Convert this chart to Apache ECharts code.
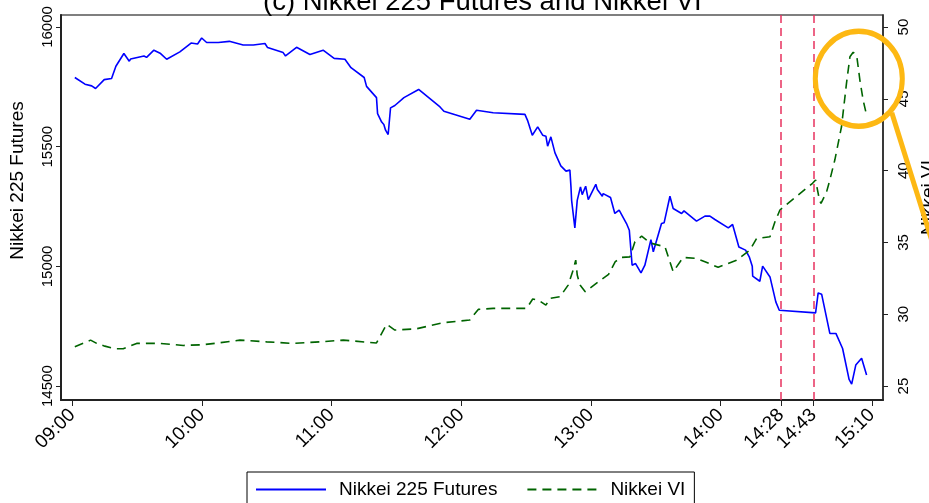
<!DOCTYPE html>
<html>
<head>
<meta charset="utf-8">
<script src="https://cdn.jsdelivr.net/npm/echarts@6/dist/echarts.min.js"></script>
<style>
  html, body { margin: 0; padding: 0; background: #fff; }
  #main { width: 929px; height: 503px; }
</style>
</head>
<body>
<div id="main"></div>
<script>
// minutes after 09:00
var futuresTime = [1.2, 5.9, 9.0, 10.8, 14.8, 18.2, 20.2, 23.9, 26.4, 27.0, 33.2, 34.4, 37.8, 40.9, 43.7, 49.8,
  55.0, 58.0, 59.9, 62.2, 67.6, 72.7, 79.1, 83.8, 89.2, 90.4, 97.6, 98.7, 103.8, 110.0, 116.1, 121.2,
  126.2, 129.0, 135.1, 136.2, 140.8, 141.3, 143.2, 144.2, 145.0, 146.2, 147.3, 149.3, 153.5, 160.3,
  170.2, 172.0, 184.0, 187.1, 194.8, 209.5, 210.7, 212.9, 215.4, 217.7, 219.2, 220.0, 221.5, 223.4,
  224.1, 226.1, 228.5, 230.3, 230.8, 231.1, 232.6, 233.7, 235.2, 236.0, 237.6, 238.8, 242.3, 243.0,
  245.3, 245.7, 249.1, 251.1, 253.1, 256.5, 257.8, 259.1, 260.7, 263.2, 265.0, 267.8, 268.9, 272.7,
  273.9, 276.6, 278.1, 282.0, 283.1, 288.9, 292.8, 295.1, 297.4, 298.2, 303.6, 305.6, 308.5, 311.6,
  313.3, 314.7, 314.9, 318.2, 319.5, 322.9, 325.6, 327.2, 344.0, 345.2, 346.8, 350.6, 351.4, 353.4,
  356.5, 359.5, 360.7, 362.6, 365.3, 367.6];
var futuresVal = [15789, 15761, 15754, 15743, 15780, 15785, 15836, 15889, 15857, 15866, 15879, 15873, 15903, 15889, 15865, 15896,
  15933, 15929, 15954, 15935, 15935, 15940, 15925, 15925, 15931, 15914, 15893, 15879, 15915, 15885, 15903, 15869,
  15865, 15830, 15789, 15752, 15705, 15638, 15603, 15593, 15569, 15551, 15662, 15672, 15705, 15739,
  15666, 15648, 15615, 15652, 15642, 15635, 15610, 15548, 15583, 15548, 15544, 15502, 15541, 15474,
  15478, 15420, 15398, 15402, 15332, 15276, 15161, 15276, 15332, 15300, 15335, 15279, 15343, 15321,
  15293, 15304, 15288, 15221, 15235, 15179, 15151, 15005, 15012, 14973, 15005, 15112, 15061, 15179,
  15182, 15293, 15242, 15221, 15232, 15189, 15210, 15210, 15196, 15200, 15161, 15175, 15081, 15068,
  15040, 15001, 14959, 14938, 15001, 14956, 14852, 14817, 14806, 14889, 14884, 14720, 14727, 14720,
  14657, 14528, 14508, 14588, 14616, 14546];

var viTime = [1.2, 8.5, 11.3, 15.1, 19.8, 23.6, 29.8, 40.6, 51.4, 60.6, 66.8, 77.6, 90.0, 102.3, 114.6, 125.4,
  140.8, 145.5, 149.3, 159.3, 171.7, 184.0, 187.9, 194.8, 210.3, 213.1, 215.7, 219.2, 221.1, 225.7,
  229.5, 231.8, 233.0, 233.7, 235.0, 237.4, 242.8, 248.2, 251.3, 254.2, 258.1, 260.4, 263.5, 265.8,
  268.1, 274.3, 278.1, 282.7, 288.9, 292.8, 298.9, 307.4, 313.6, 316.7, 322.9, 325.2, 327.5, 342.6,
  344.0, 345.8, 346.5, 349.1, 350.6, 352.9, 356.0, 358.3, 359.9, 361.4, 363.0, 364.5, 366.0, 367.6];
var viVal = [27.74, 28.2, 27.97, 27.78, 27.6, 27.6, 27.97, 27.97, 27.83, 27.88, 27.99, 28.2, 28.08, 27.97, 28.08, 28.2,
  28.0, 29.3, 28.9, 28.99, 29.41, 29.6, 30.34, 30.41, 30.41, 31.06, 30.99, 30.64, 31.11, 31.22,
  32.03, 33.08, 33.77, 32.73, 32.03, 31.57, 32.19, 32.78, 33.66, 33.96, 34.0, 35.05, 35.44, 35.17,
  34.94, 34.7, 32.96, 33.96, 33.89, 33.66, 33.27, 33.77, 34.47, 35.28, 35.4, 36.44, 37.26, 39.12,
  39.35, 37.95, 37.72, 38.53, 39.35, 40.74, 43.06, 46.08, 47.93, 48.24, 48.05, 46.31, 44.92, 43.87];

var xTicks = [0, 60, 120, 180, 240, 300, 328, 343, 370];
var futuresTicks = [14500, 15000, 15500, 16000];
var viTicks = [25, 30, 35, 40, 45, 50];
var eventTimes = [328, 343];

var FONT = 'Liberation Sans, Arial, Helvetica, sans-serif';

function fmtTime(m) {
  var h = 9 + Math.floor(m / 60);
  var mm = Math.round(m % 60);
  return (h < 10 ? '0' : '') + h + ':' + (mm < 10 ? '0' : '') + mm;
}

var futuresData = futuresTime.map(function (t, i) { return [t, futuresVal[i]]; });
var viData = viTime.map(function (t, i) { return [t, viVal[i]]; });

var myChart = echarts.init(document.getElementById('main'));

var option = {
  animation: false,
  backgroundColor: '#fff',
  textStyle: { fontFamily: FONT },
  title: {
    text: '(c) Nikkei 225 Futures and Nikkei VI',
    left: 258,
    top: -17,
    textStyle: { fontSize: 27.5, fontWeight: 'normal', color: '#000', fontFamily: FONT }
  },
  legend: {
    left: 247,
    top: 472,
    orient: 'horizontal',
    itemWidth: 70,
    itemHeight: 14,
    itemGap: 29,
    padding: [8, 9, 8, 8],
    borderColor: '#000',
    borderWidth: 1,
    borderRadius: 0,
    itemStyle: { opacity: 0 },
    textStyle: { fontSize: 19, color: '#000', fontFamily: FONT, padding: [0, 0, 0, 8] },
    data: ['Nikkei 225 Futures', 'Nikkei VI']
  },
  grid: {
    left: 61,
    right: 46,
    top: 15,
    bottom: 103,
    outerBoundsMode: 'none',
    containLabel: false,
    show: true,
    borderColor: '#555',
    borderWidth: 1.5
  },
  xAxis: {
    type: 'value',
    min: -5.2,
    max: 375.2,
    splitLine: { show: false },
    axisLine: { onZero: false, lineStyle: { color: '#222', width: 2 } },
    axisTick: { customValues: xTicks, length: 6, lineStyle: { color: '#222', width: 1 } },
    axisLabel: {
      customValues: xTicks,
      rotate: 45,
      margin: 12,
      fontSize: 19,
      color: '#000',
      fontFamily: FONT,
      formatter: function (v) { return fmtTime(v); }
    }
  },
  yAxis: [
    {
      type: 'value',
      position: 'left',
      min: 14442,
      max: 16050,
      name: 'Nikkei 225 Futures',
      nameLocation: 'middle',
      nameRotate: 90,
      nameGap: 34,
      nameTextStyle: { fontSize: 19, color: '#000', fontFamily: FONT, padding: [0, 0, 0, 54] },
      splitLine: { show: false },
      axisLine: { show: true, onZero: false, lineStyle: { color: '#222', width: 2 } },
      axisTick: { show: true, customValues: futuresTicks, length: 5, lineStyle: { color: '#222' } },
      axisLabel: {
        customValues: futuresTicks, rotate: 90, margin: 6, fontSize: 15, color: '#000', fontFamily: FONT,
        formatter: function (v) { return String(v); }
      }
    },
    {
      type: 'value',
      position: 'right',
      min: 24.03,
      max: 50.84,
      name: 'Nikkei VI',
      nameLocation: 'middle',
      nameRotate: 90,
      nameGap: 35,
      nameTextStyle: { fontSize: 19, color: '#000', fontFamily: FONT, padding: [0, 0, 0, 20] },
      splitLine: { show: false },
      axisLine: { show: true, onZero: false, lineStyle: { color: '#222', width: 1.5 } },
      axisTick: { show: true, customValues: viTicks, length: 5, lineStyle: { color: '#222' } },
      axisLabel: {
        customValues: viTicks, rotate: 90, margin: 13, fontSize: 15, color: '#000', fontFamily: FONT,
        formatter: function (v) { return String(v); }
      }
    }
  ],
  series: [
    {
      name: 'Nikkei 225 Futures',
      type: 'line',
      yAxisIndex: 0,
      data: futuresData,
      symbol: 'none',
      color: '#0000ff',
      lineStyle: { color: '#0000ff', width: 1.6 },
      markLine: {
        silent: true,
        symbol: 'none',
        label: { show: false },
        lineStyle: { color: '#e8325f', type: [8, 5], width: 1.5, opacity: 1 },
        data: eventTimes.map(function (t) { return { xAxis: t }; })
      }
    },
    {
      name: 'Nikkei VI',
      type: 'line',
      yAxisIndex: 1,
      data: viData,
      symbol: 'none',
      color: '#006400',
      lineStyle: { color: '#006400', width: 1.6, type: [9, 6] }
    }
  ]
};

myChart.setOption(option);

// highlight circle around the VI peak
var c = myChart.convertToPixel({ xAxisIndex: 0, yAxisIndex: 1 }, [364, 46.4]);
myChart.setOption({
  graphic: [
    {
      type: 'circle',
      x: c[0],
      y: c[1],
      scaleY: 1.09,
      shape: { cx: 0, cy: 0, r: 43.5 },
      style: { fill: 'none', stroke: '#fdb813', lineWidth: 5 },
      z: 100
    },
    {
      type: 'line',
      shape: { x1: c[0] + 33, y1: c[1] + 34, x2: c[0] + 100, y2: c[1] + 248 },
      style: { stroke: '#fdb813', lineWidth: 5 },
      z: 100
    }
  ]
});
</script>
</body>
</html>
